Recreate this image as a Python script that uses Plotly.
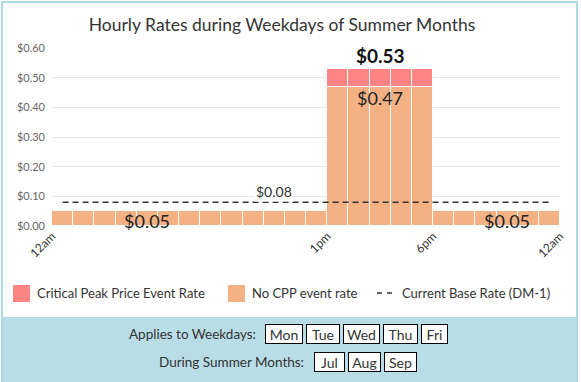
import plotly.graph_objects as go

# ---------------- data ----------------
hours = list(range(24))
no_cpp_rate = [0.05, 0.05, 0.05, 0.05, 0.05, 0.05, 0.05, 0.05, 0.05, 0.05, 0.05, 0.05, 0.05,
               0.47, 0.47, 0.47, 0.47, 0.47,
               0.05, 0.05, 0.05, 0.05, 0.05, 0.05]
cpp_adder = [0, 0, 0, 0, 0, 0, 0, 0, 0, 0, 0, 0, 0,
             0.06, 0.06, 0.06, 0.06, 0.06,
             0, 0, 0, 0, 0, 0]
base_rate = [0.08] * 24
tick_vals = [-0.5, 12.5, 17.5, 23.5]
tick_text = ["12am", "1pm", "6pm", "12am"]
series_names = ["Critical Peak Price Event Rate", "No CPP event rate", "Current Base Rate (DM-1)"]
weekdays = ["Mon", "Tue", "Wed", "Thu", "Fri"]
months = ["Jul", "Aug", "Sep"]
title_text = "Hourly Rates during Weekdays of Summer Months"

# ---------------- style ----------------
FONT = "Lato"
PINK = "#ff8585"
ORANGE = "#f4b183"
W, H = 581, 382
ML, MR, MT, MB = 52, 21, 48, 156
PW, PH = W - ML - MR, H - MT - MB


def px(x):
    return (x - ML) / PW


def py(y):
    return (H - MB - y) / PH


fig = go.Figure()
fig.add_trace(go.Bar(x=hours, y=no_cpp_rate, name=series_names[1], marker_color=ORANGE,
                     marker_line_color="white", marker_line_width=1, showlegend=False))
fig.add_trace(go.Bar(x=hours, y=cpp_adder, name=series_names[0], marker_color=PINK,
                     marker_line_color="white", marker_line_width=1, showlegend=False))
fig.add_trace(go.Scatter(x=hours, y=base_rate, mode="lines", name=series_names[2],
                         line=dict(color="#333333", width=1.5, dash="6px,4px"), showlegend=False))

ann = []
# value labels tied to data values
peak_i = no_cpp_rate.index(max(no_cpp_rate))
peak_mid = peak_i + 2
total_peak = no_cpp_rate[peak_mid] + cpp_adder[peak_mid]
ann.append(dict(x=peak_mid, y=total_peak, text="<b>$%.2f</b>" % total_peak, showarrow=False,
                yshift=13, font=dict(family=FONT, size=19, color="#111")))
ann.append(dict(x=peak_mid, y=no_cpp_rate[peak_mid], text="$%.2f" % no_cpp_rate[peak_mid],
                showarrow=False, yshift=-11, font=dict(family=FONT, size=18, color="#222")))
ann.append(dict(x=10, y=base_rate[10], text="$%.2f" % base_rate[10], showarrow=False,
                yshift=11, font=dict(family=FONT, size=14, color="#333"), bgcolor="white"))
for xi in (4, 21):
    ann.append(dict(x=xi, y=no_cpp_rate[xi], text="$%.2f" % no_cpp_rate[xi],
                    showarrow=False, yshift=-10, font=dict(family=FONT, size=18, color="#222")))

shapes = []
# outer frame and bottom panel
shapes.append(dict(type="rect", xref="paper", yref="paper", x0=px(2), x1=px(577), y0=py(317), y1=py(382),
                   fillcolor="#b8dde7", line=dict(width=0), layer="below"))
shapes.append(dict(type="rect", xref="paper", yref="paper", x0=px(2), x1=px(577), y0=py(2), y1=py(383),
                   line=dict(color="#add8e6", width=2), layer="above"))

# manual legend
leg_y = 293
LEG_FS = 13
shapes.append(dict(type="rect", xref="paper", yref="paper", x0=px(13), x1=px(30), y0=py(285), y1=py(302),
                   fillcolor=PINK, line=dict(width=0)))
ann.append(dict(xref="paper", yref="paper", x=px(35), y=py(leg_y), text=series_names[0], showarrow=False,
                xanchor="left", yanchor="middle", font=dict(family=FONT, size=LEG_FS, color="#333")))
shapes.append(dict(type="rect", xref="paper", yref="paper", x0=px(228), x1=px(245), y0=py(285), y1=py(302),
                   fillcolor=ORANGE, line=dict(width=0)))
ann.append(dict(xref="paper", yref="paper", x=px(250), y=py(leg_y), text=series_names[1], showarrow=False,
                xanchor="left", yanchor="middle", font=dict(family=FONT, size=LEG_FS, color="#333")))
shapes.append(dict(type="line", xref="paper", yref="paper", x0=px(377), x1=px(393), y0=py(leg_y), y1=py(leg_y),
                   line=dict(color="#333", width=1.5, dash="5px,5px")))
ann.append(dict(xref="paper", yref="paper", x=px(400), y=py(leg_y), text=series_names[2], showarrow=False,
                xanchor="left", yanchor="middle", font=dict(family=FONT, size=LEG_FS, color="#333")))

# bottom info panel
ann.append(dict(xref="paper", yref="paper", x=px(258), y=py(334), text="Applies to Weekdays:", showarrow=False,
                xanchor="right", yanchor="middle", font=dict(family=FONT, size=13.5, color="#333")))
ann.append(dict(xref="paper", yref="paper", x=px(306), y=py(362), text="During Summer Months:", showarrow=False,
                xanchor="right", yanchor="middle", font=dict(family=FONT, size=13.5, color="#333")))
day_cx = [284, 323, 361.5, 400.5, 434.5]
day_w = [38, 34, 37, 35, 27]
for d, cx, w in zip(weekdays, day_cx, day_w):
    ann.append(dict(xref="paper", yref="paper", x=px(cx), y=py(334), text=d, showarrow=False,
                    xanchor="center", yanchor="middle", width=w - 4, height=16, borderpad=1,
                    bordercolor="black", borderwidth=1, bgcolor="white",
                    font=dict(family=FONT, size=14, color="#333")))
mon_cx = [329.5, 364.5, 400.5]
mon_w = [31, 33, 33]
for m, cx, w in zip(months, mon_cx, mon_w):
    ann.append(dict(xref="paper", yref="paper", x=px(cx), y=py(362), text=m, showarrow=False,
                    xanchor="center", yanchor="middle", width=w - 4, height=16, borderpad=1,
                    bordercolor="black", borderwidth=1, bgcolor="white",
                    font=dict(family=FONT, size=14, color="#333")))

fig.update_layout(
    width=W, height=H,
    margin=dict(l=ML, r=MR, t=MT, b=MB, autoexpand=False),
    paper_bgcolor="white", plot_bgcolor="white",
    barmode="stack", bargap=0,
    title=dict(text=title_text, xref="container", yref="container", x=282 / W, y=1 - 25 / H,
               xanchor="center", yanchor="middle", font=dict(family=FONT, size=17.5, color="#333")),
    xaxis=dict(range=[-0.5, 23.5], tickvals=tick_vals, ticktext=tick_text, tickangle=-45,
               showgrid=False, zeroline=False, showline=False, ticks="",
               tickfont=dict(family=FONT, size=12, color="#333")),
    yaxis=dict(range=[0, 0.6], dtick=0.1, tickformat="$.2f", showgrid=True, gridcolor="#e6e6e6",
               zeroline=False, ticks="", ticklabelstandoff=6,
               tickfont=dict(family=FONT, size=11, color="#666")),
    annotations=ann, shapes=shapes, showlegend=False,
)
fig.write_html("out.html", config={"displayModeBar": False},
               post_script="document.body.style.margin='0';document.body.style.overflow='hidden';")
